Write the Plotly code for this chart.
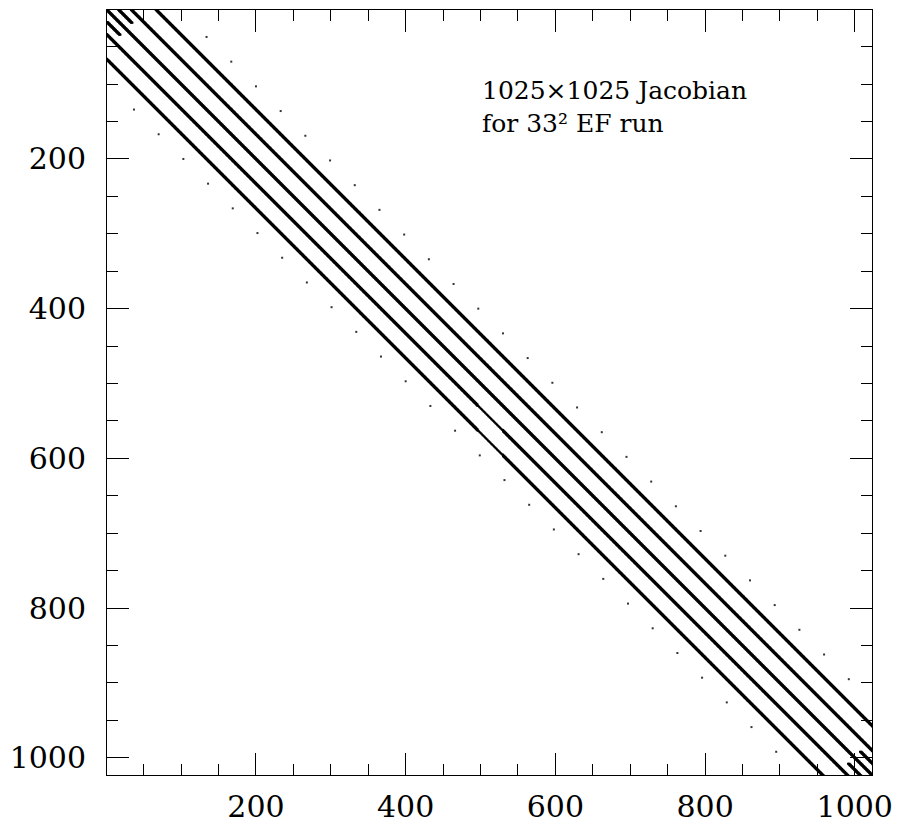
import numpy as np
import plotly.graph_objects as go

# Sparsity pattern of the 1025 x 1025 Jacobian
N = 1025

# Main banded structure: diagonal offsets (column - row) and band half-width
band_offsets = [-66, -33, 0, 33, 66]
band_halfwidth = 1

# Column range where the two lower bands reduce to a single diagonal
thin_bands = [-66, -33]
thin_cols = [497, 529]

# Short coupling segments near the two corners: (offset, first row, last row)
corner_segments = [(16, 1, 18), (-16, 17, 34), (16, 992, 1009), (-16, 1008, 1025)]

# Isolated far off-diagonal entries
dot_offset = 97
dot_first_row = 37
dot_row_step = 33

caption = ["1025×1025 Jacobian", "for 33² EF run"]

rows, cols = [], []


def add_diagonal(k, r_lo=1, r_hi=N, skip=None):
    r = np.arange(max(r_lo, 1, 1 - k), min(r_hi, N, N - k) + 1)
    c = r + k
    if skip is not None:
        keep = (c < skip[0]) | (c > skip[1])
        r, c = r[keep], c[keep]
    rows.extend(r.tolist())
    cols.extend(c.tolist())


for k in band_offsets:
    for d in range(-band_halfwidth, band_halfwidth + 1):
        skip = thin_cols if (k in thin_bands and d != 0) else None
        add_diagonal(k + d, skip=skip)

for k, r0, r1 in corner_segments:
    for d in range(-band_halfwidth, band_halfwidth + 1):
        add_diagonal(k + d, r0, r1)

dot_r, dot_c = [], []
r = dot_first_row
while r + dot_offset <= N:
    dot_r += [r, r + dot_offset]
    dot_c += [r + dot_offset, r]
    r += dot_row_step

fig = go.Figure()
fig.add_trace(go.Scatter(
    x=cols, y=rows, mode="markers",
    marker=dict(symbol="square", size=2, color="black", line=dict(width=0)),
    hoverinfo="skip",
))
fig.add_trace(go.Scatter(
    x=dot_c, y=dot_r, mode="markers",
    marker=dict(symbol="square", size=2, color="#333333", line=dict(width=0)),
    hoverinfo="skip",
))

tick_font = dict(family="DejaVu Serif", size=30, color="black")
axis_common = dict(
    tickmode="linear", tick0=0, dtick=200,
    ticks="inside", ticklen=22, tickwidth=1, tickcolor="black",
    showline=True, linecolor="black", linewidth=1, mirror="ticks",
    showgrid=False, zeroline=False, automargin=False,
    minor=dict(tick0=0, dtick=50, ticks="inside", ticklen=11,
               tickwidth=1, tickcolor="black", showgrid=False),
    tickfont=tick_font,
)

fig.update_layout(
    width=899, height=825,
    margin=dict(l=107, r=27, t=10, b=50),
    paper_bgcolor="white", plot_bgcolor="white",
    showlegend=False,
    xaxis=dict(range=[1, 1023], ticklabelstandoff=5, **axis_common),
    yaxis=dict(range=[1023, 1], ticklabelstandoff=14, **axis_common),
)

fig.add_annotation(text="<br>".join(caption), xref="paper", yref="paper",
                   x=0.489, y=(775 - 107) / 765, xanchor="left", yanchor="middle",
                   align="left", showarrow=False, borderpad=0,
                   font=dict(family="DejaVu Serif", size=25, color="black"))

fig.write_html("out.html")
